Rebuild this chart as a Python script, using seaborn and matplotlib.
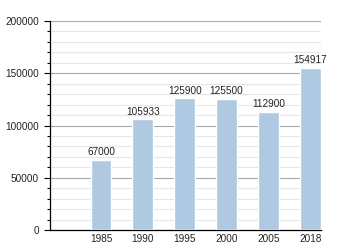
import matplotlib
matplotlib.use("Agg")
import matplotlib.pyplot as plt
import seaborn as sns
import pandas as pd
from matplotlib.ticker import MultipleLocator

years = ["1985", "1990", "1995", "2000", "2005", "2018"]
population = [67000, 105933, 125900, 125500, 112900, 154917]
yticks = [0, 50000, 100000, 150000, 200000]

sns.set_style("white")
plt.rcParams['font.family'] = ['Liberation Sans', 'DejaVu Sans']

df = pd.DataFrame({"year": years, "pop": population})

fig = plt.figure(figsize=(3.5, 2.5), dpi=100)
ax = fig.add_axes([50/350, 20/250, 271/350, 209/250])

ax.yaxis.set_minor_locator(MultipleLocator(10000))
ax.set_yticks(yticks)
ax.set_ylim(0, 200000)
ax.grid(which="major", axis="y", color="#a8a8a8", linewidth=0.8, zorder=0)
ax.grid(which="minor", axis="y", color="#e6e6e6", linewidth=0.8, zorder=0)
ax.set_axisbelow(True)

sns.barplot(data=df, x="year", y="pop", color="#b0c9e3", saturation=1, width=0.5, ax=ax, zorder=3)
for c in ax.containers:
    ax.bar_label(c, labels=[str(v) for v in population], padding=2, fontsize=7.2, color="#222222")

ax.set_xlim(-1.22, 5.26)
ax.set_xlabel("")
ax.set_ylabel("")
for s in ["top", "right"]:
    ax.spines[s].set_visible(False)
ax.spines["left"].set_color("black")
ax.spines["bottom"].set_color("black")
ax.spines["left"].set_linewidth(0.9)
ax.spines["bottom"].set_linewidth(0.9)

ax.tick_params(axis="y", which="major", length=4, width=0.8, color="black", labelsize=7.2, labelcolor="#222222", pad=4, left=True)
ax.tick_params(axis="y", which="minor", length=2.5, width=0.8, color="black", left=True)
ax.tick_params(axis="x", length=0, labelsize=7.2, labelcolor="#222222", pad=3)
ax.set_yticklabels([str(v) for v in yticks])

fig.savefig("out.png", dpi=100)
